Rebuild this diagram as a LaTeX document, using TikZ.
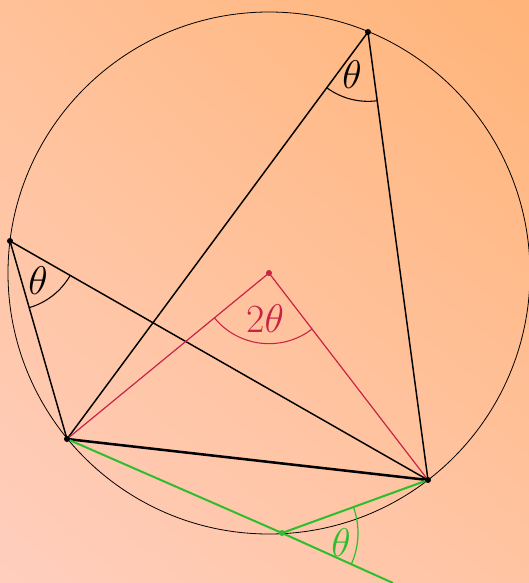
\RequirePackage{fix-cm}
\documentclass[tikz,border=0pt]{standalone}
\usetikzlibrary{angles,shadings}
\definecolor{bgUL}{RGB}{255,193,152}
\definecolor{bgUR}{RGB}{255,180,120}
\definecolor{bgLL}{RGB}{255,206,190}
\definecolor{bgLR}{RGB}{255,196,162}
\definecolor{redc}{RGB}{200,35,70}
\definecolor{greenc}{RGB}{45,190,45}
\begin{document}
\begin{tikzpicture}[x=0.75pt,y=-0.75pt,
  edge/.style={line width=1.1pt,black},
  redline/.style={line width=0.9pt,redc},
  greenline/.style={line width=1.5pt,greenc},
  lbl/.style={font=\fontsize{30}{34}\selectfont,inner sep=0pt},
  dotb/.style={circle,fill=black,inner sep=0pt,minimum size=4.5pt}]
\shade[upper left=bgUL,upper right=bgUR,lower left=bgLL,lower right=bgLR] (0,0) rectangle (529,583);
\useasboundingbox (0,0) rectangle (529,583);
\coordinate (O) at (269,273);
\coordinate (A) at (67,439);
\coordinate (B) at (428,480);
\coordinate (C) at (368,32);
\coordinate (D) at (10,241);
\coordinate (E) at (282,533);
\coordinate (F) at (393,583);
\draw[line width=0.6pt] (O) circle [radius=261];
% angle arcs
\pic[draw,line width=0.8pt,angle radius=52pt] {angle=A--C--B};
\pic[draw,line width=0.8pt,angle radius=52pt] {angle=A--D--B};
\pic[draw,redc,line width=0.8pt,angle radius=53pt] {angle=A--O--B};
\pic[draw,greenc,line width=0.9pt,angle radius=57pt] {angle=F--E--B};
% lines
\draw[edge] (A) -- (C) -- (B);
\draw[edge] (A) -- (D) -- (B);
\draw[line width=1.9pt] (A) -- (B);
\draw[redline] (A) -- (O) -- (B);
\draw[greenline] (A) -- (E) -- (F);
\draw[greenline] (E) -- (B);
% dots
\node[dotb] (dA) at (A) {};
\node[dotb] (dB) at (B) {};
\node[dotb] (dC) at (C) {};
\node[dotb] (dD) at (D) {};
\node[dotb,fill=redc] (dO) at (O) {};
\node[dotb,fill=greenc] (dE) at (E) {};
% labels
\node[lbl] (tC) at (352,75) {$\theta$};
\node[lbl] (tD) at (38,281) {$\theta$};
\node[lbl,redc] (tO) at (265,319) {$2\theta$};
\node[lbl,greenc] (tE) at (341,543) {$\theta$};
\end{tikzpicture}
\end{document}
